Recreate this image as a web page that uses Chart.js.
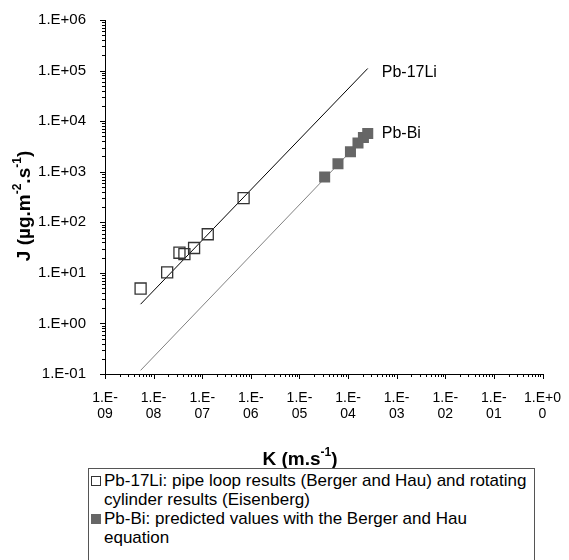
<!DOCTYPE html>
<html>
<head>
<meta charset="utf-8">
<script src="https://cdn.jsdelivr.net/npm/chart.js@4/dist/chart.umd.min.js"></script>
<style>
  html, body { margin: 0; padding: 0; background: #fff; }
  #wrap { position: relative; width: 569px; height: 560px; overflow: hidden; }
  #legend {
    position: absolute; left: 88px; top: 468px; width: 447px; height: 110px;
    border: 1px solid #555; background: #fff; box-sizing: border-box;
    font: 17px "Liberation Sans", Arial, sans-serif; color: #000;
    padding: 2px 2px 0 2px;
  }
  .item { position: relative; padding-left: 13px; line-height: 19px; }
  .mark { position: absolute; left: 0; top: 5px; width: 10px; height: 10px; box-sizing: border-box; }
</style>
</head>
<body>
<div id="wrap">
  <canvas id="chart" width="569" height="560"></canvas>
  <div id="legend"></div>
</div>
<script>
// Data
const kLi = [5.4e-9, 1.9e-8, 3.4e-8, 4.3e-8, 6.8e-8, 1.3e-7, 7.1e-7];
const jLi = [4.9, 10.2, 25, 23.5, 31, 58, 300];
const kBi = [3.3e-5, 6.2e-5, 1.12e-4, 1.6e-4, 2.07e-4, 2.54e-4];
const jBi = [790, 1430, 2490, 3700, 4750, 5700];
// fitted lines (end points)
const kFit = [5.4e-9, 2.54e-4];
const jFitLi = [2.4, 1.1e5];
const jFitBi = [0.118, 5700];

const legendLi = 'Pb-17Li: pipe loop results (Berger and Hau) and rotating cylinder results (Eisenberg)';
const legendBi = 'Pb-Bi: predicted values with the Berger and Hau equation';
const lineLabels = ['Pb-17Li', 'Pb-Bi'];

const xExp = [-9, -8, -7, -6, -5, -4, -3, -2, -1, 0];
const yExp = [-1, 0, 1, 2, 3, 4, 5, 6];

const font = '"Liberation Sans", Arial, sans-serif';

function pts(xs, ys) {
    return xs.map((x, i) => ({ x: x, y: ys[i] }));
}
function pad2(e) {
    return (e < 0 ? '-' : '+') + String(Math.abs(e)).padStart(2, '0');
}

// text with superscripts
function supFont(p, size) {
    return 'bold ' + (p.sup ? Math.round(size * 0.62) : size) + 'px ' + font;
}
function drawRich(ctx, parts, size, cx, cy) {
    let w = 0;
    parts.forEach(p => {
        ctx.font = supFont(p, size);
        p.w = ctx.measureText(p.t).width;
        w += p.w;
    });
    let x = cx - w / 2;
    ctx.textBaseline = 'middle';
    ctx.textAlign = 'left';
    parts.forEach(p => {
        ctx.font = supFont(p, size);
        ctx.fillText(p.t, x, p.sup ? cy - size * 0.4 : cy);
        x += p.w;
    });
}

const extras = {
    id: 'extras',
    afterDraw(chart) {
        const ctx = chart.ctx;
        const xs = chart.scales.x, ys = chart.scales.y;
        const area = chart.chartArea;
        ctx.save();
        ctx.strokeStyle = '#000';
        ctx.lineWidth = 1;
        // minor + major ticks
        xExp.forEach(e => {
            for (let m = 1; m <= 9; m++) {
                if (e === 0 && m > 1) break;
                const px = Math.round(xs.getPixelForValue(m * Math.pow(10, e))) + 0.5;
                const len = m === 1 ? 5 : 3;
                ctx.beginPath();
                ctx.moveTo(px, area.bottom);
                ctx.lineTo(px, area.bottom + len);
                ctx.stroke();
            }
        });
        yExp.forEach(e => {
            for (let m = 1; m <= 9; m++) {
                if (e === 6 && m > 1) break;
                const py = Math.round(ys.getPixelForValue(m * Math.pow(10, e))) + 0.5;
                const len = m === 1 ? 5 : 3;
                ctx.beginPath();
                ctx.moveTo(area.left, py);
                ctx.lineTo(area.left - len, py);
                ctx.stroke();
            }
        });
        // line labels
        ctx.fillStyle = '#000';
        ctx.font = '16px ' + font;
        ctx.textBaseline = 'middle';
        ctx.textAlign = 'left';
        const endLi = chart.getDatasetMeta(1).data[1];
        const endBi = chart.getDatasetMeta(3).data[1];
        ctx.fillText(lineLabels[0], endLi.x + 14, endLi.y + 4);
        ctx.fillText(lineLabels[1], endBi.x + 14, endBi.y);
        // axis titles
        drawRich(ctx, [{ t: 'K (m.s' }, { t: '-1', sup: true }, { t: ')' }], 19, 300, 460);
        ctx.translate(25, 206);
        ctx.rotate(-Math.PI / 2);
        drawRich(ctx, [{ t: 'J (µg.m' }, { t: '-2', sup: true }, { t: '.s' }, { t: '-1', sup: true }, { t: ')' }], 19, 0, 0);
        ctx.restore();
    }
};

const chart = new Chart(document.getElementById('chart'), {
    type: 'scatter',
    data: {
        datasets: [
            {
                label: legendLi,
                data: pts(kLi, jLi),
                pointStyle: 'rect',
                pointRadius: 7.8,
                pointBackgroundColor: 'rgba(255,255,255,0)',
                pointBorderColor: '#333',
                pointBorderWidth: 1.3,
                showLine: false,
                order: 1
            },
            {
                label: 'fitLi',
                data: pts(kFit, jFitLi),
                showLine: true,
                borderColor: '#000',
                borderWidth: 1,
                pointRadius: 0,
                order: 2
            },
            {
                label: legendBi,
                data: pts(kBi, jBi),
                pointStyle: 'rect',
                pointRadius: 7.8,
                pointBackgroundColor: '#666',
                pointBorderColor: '#666',
                pointBorderWidth: 0,
                showLine: false,
                order: 1
            },
            {
                label: 'fitBi',
                data: pts(kFit, jFitBi),
                showLine: true,
                borderColor: '#808080',
                borderWidth: 1,
                pointRadius: 0,
                order: 2
            }
        ]
    },
    options: {
        responsive: false,
        animation: false,
        layout: { padding: { left: 0, top: 20, right: 24, bottom: 86 } },
        plugins: { legend: { display: false }, tooltip: { enabled: false } },
        scales: {
            x: {
                type: 'logarithmic',
                min: 1e-9,
                max: 1,
                afterFit: s => { s.height = 100; },
                afterBuildTicks: s => { s.ticks = xExp.map(e => ({ value: Math.pow(10, e), major: true })); },
                grid: { display: false },
                border: { display: true, color: '#000', width: 1 },
                ticks: {
                    autoSkip: false,
                    maxRotation: 0,
                    padding: 8,
                    color: '#000',
                    font: { family: font, size: 14, lineHeight: 1.15 },
                    callback: v => {
                        const e = Math.round(Math.log10(v));
                        return e === 0 ? ['1.E+0', '0'] : ['1.E-', String(-e).padStart(2, '0')];
                    }
                }
            },
            y: {
                type: 'logarithmic',
                min: 0.1,
                max: 1e6,
                afterFit: s => { s.width = 105; },
                afterBuildTicks: s => { s.ticks = yExp.map(e => ({ value: Math.pow(10, e), major: true })); },
                grid: { display: false },
                border: { display: true, color: '#000', width: 1 },
                ticks: {
                    autoSkip: false,
                    padding: 11,
                    color: '#000',
                    font: { family: font, size: 15 },
                    callback: v => '1.E' + pad2(Math.round(Math.log10(v)))
                }
            }
        }
    },
    plugins: [extras]
});

// html legend built from the scatter datasets
const legendEl = document.getElementById('legend');
chart.data.datasets.filter(d => d.showLine === false).forEach(d => {
    const item = document.createElement('div');
    item.className = 'item';
    const mark = document.createElement('span');
    mark.className = 'mark';
    mark.style.background = d.pointBackgroundColor;
    mark.style.border = '1px solid ' + d.pointBorderColor;
    item.appendChild(mark);
    item.appendChild(document.createTextNode(d.label));
    legendEl.appendChild(item);
});
</script>
</body>
</html>
